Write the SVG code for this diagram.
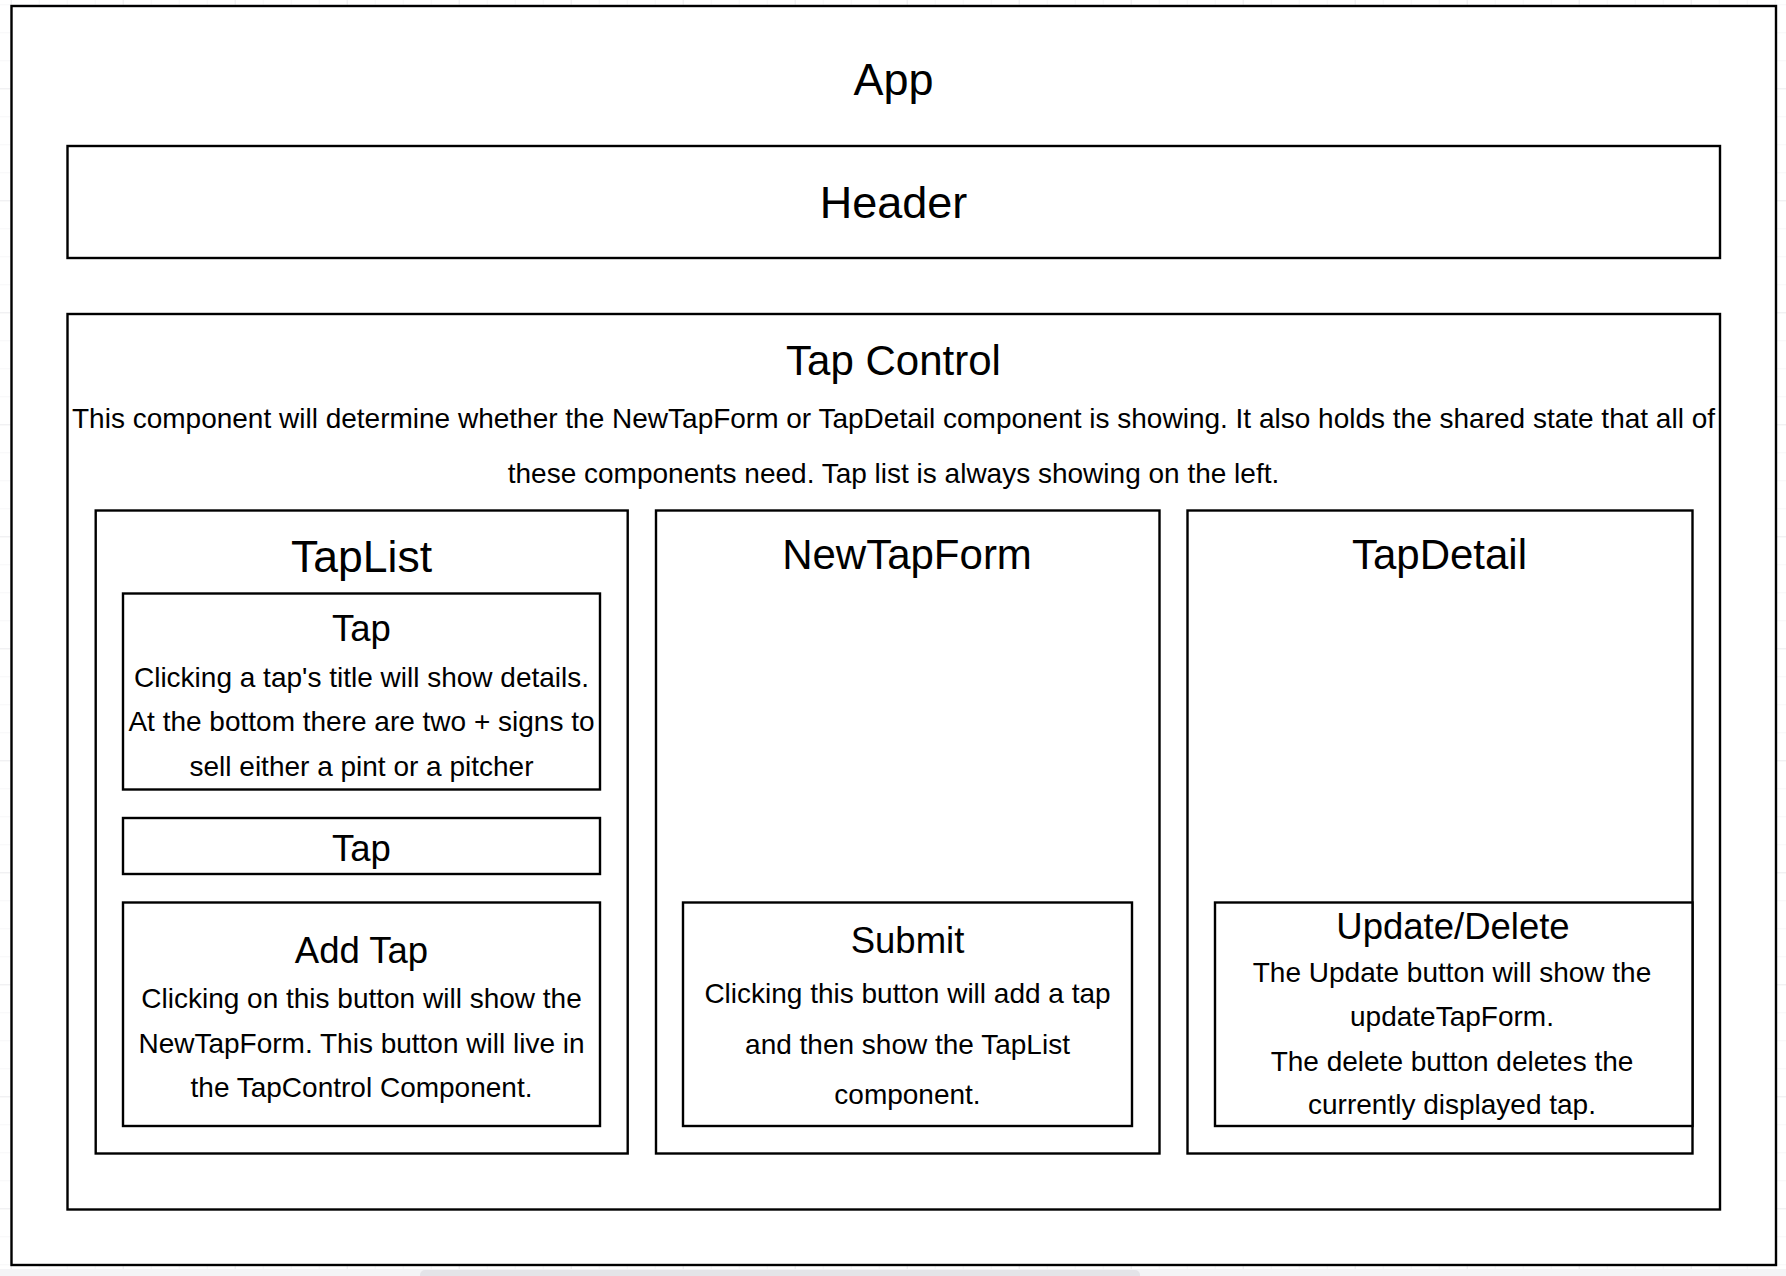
<svg xmlns="http://www.w3.org/2000/svg" width="1786" height="1276" viewBox="0 0 1786 1276">
  <style>
    .box { fill: #ffffff; stroke: #000000; stroke-width: 2.4; }
    text { font-family: "Liberation Sans", Arial, Helvetica, sans-serif; fill: #000000; text-anchor: middle; }
    .t44 { font-size: 45px; }
    .t42 { font-size: 42px; }
    .t36 { font-size: 36.5px; }
    .body { font-size: 28px; }
  </style>
  <defs>
    <pattern id="minor" x="10.7" y="4.3" width="28" height="28" patternUnits="userSpaceOnUse">
      <path d="M0 0 H28 M0 0 V28" fill="none" stroke="#efeff1" stroke-width="1"/>
    </pattern>
    <pattern id="major" x="10.7" y="-23.7" width="112" height="112" patternUnits="userSpaceOnUse">
      <path d="M0 0 H112 M0 0 V112" fill="none" stroke="#e2e2e6" stroke-width="1"/>
    </pattern>
  </defs>

  <!-- background -->
  <rect x="0" y="0" width="1786" height="1276" fill="#ffffff"/>
  <rect x="0" y="0" width="1786" height="1276" fill="url(#minor)"/>
  <rect x="0" y="0" width="1786" height="1276" fill="url(#major)"/>
  <rect x="0" y="1269" width="1786" height="7" fill="#f4f4f6"/>
  <rect x="420" y="1270" width="720" height="10" rx="5" fill="#e4e4e8"/>

  <g id="app">
    <rect class="box" x="11.5" y="6" width="1764.5" height="1259"/>
    <text class="t44" x="893.5" y="95">App</text>
  </g>

  <g id="header">
    <rect class="box" x="67.5" y="146" width="1652.5" height="112"/>
    <text class="t44" x="893.5" y="217.5">Header</text>
  </g>

  <g id="tap-control">
    <rect class="box" x="67.5" y="314" width="1652.5" height="895.5"/>
    <text class="t42" x="893.5" y="375">Tap Control</text>
    <text class="body" x="893.5" y="428">This component will determine whether the NewTapForm or TapDetail component is showing. It also holds the shared state that all of</text>
    <text class="body" x="893.5" y="482.5">these components need. Tap list is always showing on the left.</text>
  </g>

  <g id="tap-list">
    <rect class="box" x="95.7" y="510.5" width="532" height="643"/>
    <text class="t44" x="361.6" y="571.5" style="font-size:44.5px">TapList</text>
  </g>

  <g id="tap-1">
    <rect class="box" x="123" y="593.5" width="477" height="196"/>
    <text class="t36" x="361.5" y="641">Tap</text>
    <text class="body" x="361.5" y="686.5">Clicking a tap's title will show details.</text>
    <text class="body" x="361.5" y="731">At the bottom there are two + signs to</text>
    <text class="body" x="361.5" y="775.5">sell either a pint or a pitcher</text>
  </g>

  <g id="tap-2">
    <rect class="box" x="123" y="818" width="477" height="56"/>
    <text class="t36" x="361.5" y="861">Tap</text>
  </g>

  <g id="add-tap">
    <rect class="box" x="123" y="902.5" width="477" height="223.5"/>
    <text class="t36" x="361.5" y="962.5">Add Tap</text>
    <text class="body" x="361.5" y="1008">Clicking on this button will show the</text>
    <text class="body" x="361.5" y="1052.5">NewTapForm. This button will live in</text>
    <text class="body" x="361.5" y="1097">the TapControl Component.</text>
  </g>

  <g id="new-tap-form">
    <rect class="box" x="656" y="510.5" width="503.5" height="643"/>
    <text class="t42" x="907" y="568.5">NewTapForm</text>
  </g>

  <g id="submit">
    <rect class="box" x="683" y="902.5" width="449" height="223.5"/>
    <text class="t36" x="907.5" y="952.5">Submit</text>
    <text class="body" x="907.5" y="1003">Clicking this button will add a tap</text>
    <text class="body" x="907.5" y="1053.5">and then show the TapList</text>
    <text class="body" x="907.5" y="1103.5">component.</text>
  </g>

  <g id="tap-detail">
    <rect class="box" x="1187.5" y="510.5" width="505" height="643"/>
    <text class="t42" x="1439.5" y="568.5">TapDetail</text>
  </g>

  <g id="update-delete">
    <rect class="box" x="1215" y="902.5" width="477.5" height="223.5"/>
    <text class="t36" x="1453" y="939">Update/Delete</text>
    <text class="body" x="1452" y="981.5">The Update button will show the</text>
    <text class="body" x="1452" y="1026">updateTapForm.</text>
    <text class="body" x="1452" y="1070.5">The delete button deletes the</text>
    <text class="body" x="1452" y="1114">currently displayed tap.</text>
  </g>

  <g id="connectors"></g>
</svg>
